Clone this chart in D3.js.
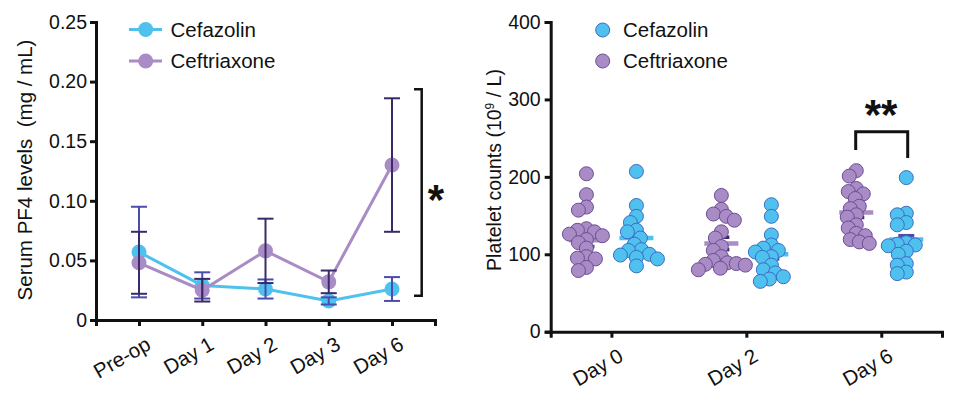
<!DOCTYPE html>
<html>
<head>
<meta charset="utf-8">
<script src="https://cdn.jsdelivr.net/npm/d3@7"></script>
<style>
  body { margin: 0; background: #fff; }
  svg { font-family: "Liberation Sans", Arial, sans-serif; }
</style>
</head>
<body>
<div id="chart"></div>
<script>
// Left panel: serum PF4 (mean +/- SEM)
const pf4Days = ['Pre-op', 'Day 1', 'Day 2', 'Day 3', 'Day 6'];
const cefazolinPF4 = [0.057, 0.029, 0.026, 0.016, 0.026];
const cefazolinPF4Err = [0.038, 0.011, 0.008, 0.003, 0.010];
const ceftriaxonePF4 = [0.048, 0.025, 0.058, 0.032, 0.130];
const ceftriaxonePF4Err = [0.026, 0.0095, 0.027, 0.0095, 0.056];
const pf4Ticks = [0, 0.05, 0.10, 0.15, 0.20, 0.25];

// Right panel: platelet counts per patient
const plateletDays = ['Day 0', 'Day 2', 'Day 6'];
const ceftriaxoneDay0 = [204, 177, 161, 157, 133, 131, 129, 126, 124, 119, 115, 108, 97, 95, 94, 83, 79];
const ceftriaxoneDay2 = [176, 158, 152, 149, 144, 129, 121, 110, 105, 97, 92, 89, 88, 87, 86, 82, 80];
const ceftriaxoneDay6 = [208, 201, 185, 181, 178, 172, 162, 159, 151, 148, 138, 134, 127, 124, 119, 116, 114];
const cefazolinDay0 = [207, 163, 149, 141, 131, 129, 121, 113, 106, 105, 100, 99, 96, 94, 85];
const cefazolinDay2 = [164, 149, 125, 112, 108, 105, 103, 97, 96, 86, 80, 76, 71, 68, 65];
const cefazolinDay6 = [199, 153, 151, 141, 138, 115, 113, 112, 111, 104, 100, 88, 86, 77, 75];
const ceftriaxoneMean = [118, 114, 154];
const ceftriaxoneSem = [8, 8, 6.5];
const cefazolinMean = [121, 100, 119];
const cefazolinSem = [6, 6, 5];
const plateletTicks = [0, 100, 200, 300, 400];

const blue = '#4fc1ee', blueEdge = '#3d6cc4', blueErr = '#4a4cae';
const purple = '#a98bc5', purpleEdge = '#6c4d96', purpleErr = '#3a2a68';

const svg = d3.select('#chart').append('svg')
    .attr('width', 957)
    .attr('height', 398);

function styleAxis(g) {
    g.select('.domain').attr('stroke', '#111').attr('stroke-width', 3);
    g.selectAll('.tick line').attr('stroke', '#111').attr('stroke-width', 3);
    g.selectAll('.tick text').attr('fill', '#111').style('font-size', '19.5px');
}

// ---------- left panel ----------
const x1 = d3.scalePoint().domain(pf4Days).range([96, 435]).padding(0.68);
const y1 = d3.scaleLinear().domain([0, 0.25]).range([320, 22]);

svg.append('g')
    .attr('transform', 'translate(96,0)')
    .call(d3.axisLeft(y1).tickValues(pf4Ticks).tickSizeOuter(0).tickSize(6).tickPadding(3)
        .tickFormat(d => d === 0 ? '0' : d3.format('.2f')(d)))
    .call(styleAxis);

const xa1 = svg.append('g')
    .attr('transform', 'translate(0,320)')
    .call(d3.axisBottom(x1).tickSizeOuter(0).tickSize(6))
    .call(styleAxis);
xa1.selectAll('.tick text')
    .style('font-size', '20.5px')
    .attr('text-anchor', 'end')
    .attr('transform', 'translate(9,22) rotate(-30)')
    .attr('dy', '0.35em').attr('y', 0);

svg.append('text')
    .attr('transform', 'translate(32,170) rotate(-90)')
    .attr('text-anchor', 'middle')
    .style('font-size', '20.5px')
    .style('white-space', 'pre')
    .attr('fill', '#111')
    .text('Serum PF4 levels  (mg / mL)');

const pf4Series = [
    { name: 'Cefazolin', vals: cefazolinPF4, err: cefazolinPF4Err, color: blue, errColor: blueErr },
    { name: 'Ceftriaxone', vals: ceftriaxonePF4, err: ceftriaxonePF4Err, color: purple, errColor: purpleErr }
];

const line = d3.line().x((d, i) => x1(pf4Days[i])).y(d => y1(d));

pf4Series.forEach(s => {
    svg.append('path')
        .attr('d', line(s.vals))
        .attr('fill', 'none')
        .attr('stroke', s.color)
        .attr('stroke-width', 3);
    svg.selectAll(null).data(s.vals).enter().append('circle')
        .attr('cx', (d, i) => x1(pf4Days[i]))
        .attr('cy', d => y1(d))
        .attr('r', 7.5)
        .attr('fill', s.color);
});

pf4Series.forEach(s => {
    const g = svg.append('g').attr('stroke', s.errColor).attr('stroke-width', 2);
    s.vals.forEach((v, i) => {
        const cx = x1(pf4Days[i]);
        const hi = y1(v + s.err[i]), lo = y1(v - s.err[i]);
        g.append('line').attr('x1', cx).attr('x2', cx).attr('y1', hi).attr('y2', lo);
        g.append('line').attr('x1', cx - 8).attr('x2', cx + 8).attr('y1', hi).attr('y2', hi);
        g.append('line').attr('x1', cx - 8).attr('x2', cx + 8).attr('y1', lo).attr('y2', lo);
    });
});

// legend
pf4Series.forEach((s, i) => {
    const ly = 29.5 + i * 31.5;
    svg.append('line').attr('x1', 129).attr('x2', 162).attr('y1', ly).attr('y2', ly)
        .attr('stroke', s.color).attr('stroke-width', 3);
    svg.append('circle').attr('cx', 145.7).attr('cy', ly).attr('r', 7.5).attr('fill', s.color);
    svg.append('text').attr('x', 170.5).attr('y', ly + 7.3)
        .style('font-size', '20.5px').attr('fill', '#111').text(s.name);
});

// significance bracket
svg.append('path')
    .attr('d', 'M414,89.3H421.7V295.7H414')
    .attr('fill', 'none').attr('stroke', '#111').attr('stroke-width', 2.5);
svg.append('text').attr('x', 436).attr('y', 214)
    .attr('text-anchor', 'middle')
    .style('font-size', '42px').style('font-weight', 'bold')
    .attr('fill', '#111').text('*');

// ---------- right panel ----------
const x2 = d3.scalePoint().domain(plateletDays).range([550.7, 942]).padding(0.45);
const y2 = d3.scaleLinear().domain([0, 400]).range([331.7, 22]);
const offset = 25;

svg.append('g')
    .attr('transform', 'translate(550.7,0)')
    .call(d3.axisLeft(y2).tickValues(plateletTicks).tickSizeOuter(0).tickSize(6).tickPadding(4))
    .call(styleAxis);

const xa2 = svg.append('g')
    .attr('transform', 'translate(0,331.7)')
    .call(d3.axisBottom(x2).tickSizeOuter(0).tickSize(6))
    .call(styleAxis);
xa2.selectAll('.tick text')
    .style('font-size', '20.5px')
    .attr('text-anchor', 'end')
    .attr('transform', 'translate(9,22) rotate(-30)')
    .attr('dy', '0.35em').attr('y', 0);

const yTitle2 = svg.append('text')
    .attr('transform', 'translate(501,170) rotate(-90)')
    .attr('text-anchor', 'middle')
    .style('font-size', '19.5px')
    .attr('fill', '#111');
yTitle2.append('tspan').text('Platelet counts (10');
yTitle2.append('tspan').attr('dy', -7).style('font-size', '12px').text('9');
yTitle2.append('tspan').attr('dy', 7).text(' / L)');

// simple beeswarm: nearest free horizontal offset
function swarm(values, cx, minD) {
    const placed = [];
    const order = values.map((v, i) => i).sort((a, b) => values[b] - values[a]);
    const out = new Array(values.length);
    order.forEach(i => {
        const py = y2(values[i]);
        for (let k = 0; k < 200; k++) {
            const dx = (k % 2 === 0 ? 1 : -1) * Math.ceil(k / 2);
            const ok = placed.every(p => Math.hypot(p[0] - dx, p[1] - py) >= minD);
            if (ok) { placed.push([dx, py]); out[i] = cx + dx; break; }
        }
    });
    return out;
}

const groups = [
    { vals: [ceftriaxoneDay0, ceftriaxoneDay2, ceftriaxoneDay6], mean: ceftriaxoneMean, sem: ceftriaxoneSem,
      side: -1, fill: purple, edge: purpleEdge, err: purpleErr },
    { vals: [cefazolinDay0, cefazolinDay2, cefazolinDay6], mean: cefazolinMean, sem: cefazolinSem,
      side: 1, fill: blue, edge: blueEdge, err: blueErr }
];

groups.forEach(gr => {
    plateletDays.forEach((day, di) => {
        const cx = x2(day) + gr.side * offset;
        svg.append('line')
            .attr('x1', cx - 17).attr('x2', cx + 17)
            .attr('y1', y2(gr.mean[di])).attr('y2', y2(gr.mean[di]))
            .attr('stroke', gr.fill).attr('stroke-width', 4.5);
        [gr.mean[di] + gr.sem[di], gr.mean[di] - gr.sem[di]].forEach(v => {
            svg.append('line')
                .attr('x1', cx - 8).attr('x2', cx + 8)
                .attr('y1', y2(v)).attr('y2', y2(v))
                .attr('stroke', gr.err).attr('stroke-width', 3.5);
        });
        const xs = swarm(gr.vals[di], cx, 8.5);
        svg.selectAll(null).data(gr.vals[di]).enter().append('circle')
            .attr('cx', (d, i) => xs[i])
            .attr('cy', d => y2(d))
            .attr('r', 7)
            .attr('fill', gr.fill)
            .attr('stroke', gr.edge)
            .attr('stroke-width', 1);
    });
});

// legend
[{ name: 'Cefazolin', g: groups[1] }, { name: 'Ceftriaxone', g: groups[0] }].forEach((s, i) => {
    const ly = 30 + i * 31;
    svg.append('circle').attr('cx', 602.7).attr('cy', ly).attr('r', 7)
        .attr('fill', s.g.fill).attr('stroke', s.g.edge).attr('stroke-width', 1);
    svg.append('text').attr('x', 623).attr('y', ly + 7.3)
        .style('font-size', '20.5px').attr('fill', '#111').text(s.name);
});

// significance bracket
svg.append('path')
    .attr('d', 'M855.7,150V131.7H907.7V158')
    .attr('fill', 'none').attr('stroke', '#111').attr('stroke-width', 3);
svg.append('text').attr('x', 881).attr('y', 129)
    .attr('text-anchor', 'middle')
    .style('font-size', '42px').style('font-weight', 'bold')
    .attr('fill', '#111').text('**');
</script>
</body>
</html>
